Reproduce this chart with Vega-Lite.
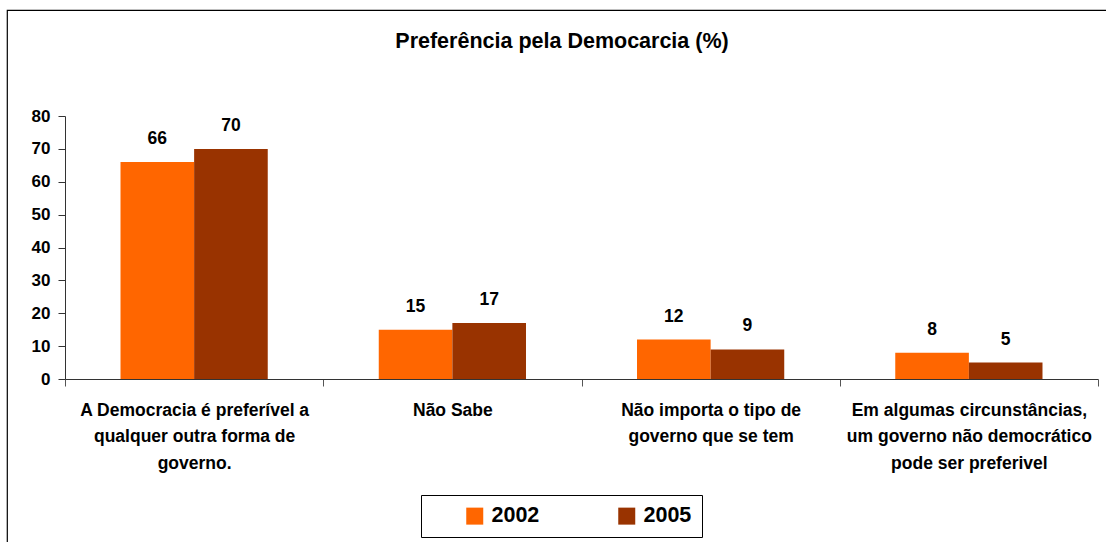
{
  "$schema": "https://vega.github.io/schema/vega-lite/v6.json",
  "autosize": "none",
  "width": 1110,
  "height": 540,
  "padding": {"left": 7, "top": 10, "right": 0, "bottom": 0},
  "background": "white",
  "title": {
    "text": "Preferência pela Democarcia (%)",
    "fontSize": 21.5,
    "fontWeight": "bold",
    "font": "Liberation Sans",
    "color": "black",
    "anchor": "middle",
    "offset": -42
  },
  "config": {
    "font": "Liberation Sans",
    "view": {"stroke": "black", "strokeWidth": 1.2}
  },
  "data": {
    "values": [
      {"cat": "A Democracia é preferível a|qualquer outra forma de|governo.", "year": "2002", "value": 66},
      {"cat": "A Democracia é preferível a|qualquer outra forma de|governo.", "year": "2005", "value": 70},
      {"cat": "Não Sabe", "year": "2002", "value": 15},
      {"cat": "Não Sabe", "year": "2005", "value": 17},
      {"cat": "Não importa o tipo de|governo que se tem", "year": "2002", "value": 12},
      {"cat": "Não importa o tipo de|governo que se tem", "year": "2005", "value": 9},
      {"cat": "Em algumas circunstâncias,|um governo não democrático|pode ser preferivel", "year": "2002", "value": 8},
      {"cat": "Em algumas circunstâncias,|um governo não democrático|pode ser preferivel", "year": "2005", "value": 5}
    ]
  },
  "encoding": {
    "x": {
      "field": "cat",
      "type": "nominal",
      "sort": null,
      "scale": {"range": [58, 1091], "paddingInner": 0, "paddingOuter": 0},
      "axis": {
        "title": null,
        "offset": -171,
        "labelAngle": 0,
        "labelExpr": "split(datum.label, '|')",
        "labelFontSize": 17.5,
        "labelFontWeight": "bold",
        "labelColor": "black",
        "labelLineHeight": 26.5,
        "labelPadding": 15,
        "labelLimit": 300,
        "tickBand": "extent",
        "tickSize": 7,
        "tickColor": "#555",
        "domainColor": "#333",
        "grid": false
      }
    },
    "xOffset": {
      "field": "year",
      "type": "nominal",
      "scale": {"paddingInner": 0, "paddingOuter": 0.754}
    },
    "y": {
      "field": "value",
      "type": "quantitative",
      "scale": {"domain": [0, 80], "range": [369, 106], "nice": false},
      "axis": {
        "title": null,
        "offset": -58,
        "values": [0, 10, 20, 30, 40, 50, 60, 70, 80],
        "labelFontSize": 17,
        "labelFontWeight": "bold",
        "labelColor": "black",
        "labelPadding": 8,
        "tickSize": 7,
        "tickColor": "#333",
        "domainColor": "#333",
        "grid": false
      }
    }
  },
  "layer": [
    {
      "mark": {"type": "bar"},
      "encoding": {
        "color": {
          "field": "year",
          "type": "nominal",
          "scale": {"domain": ["2002", "2005"], "range": ["#FF6600", "#993300"]},
          "legend": {
            "title": null,
            "orient": "none",
            "legendX": 414,
            "legendY": 485,
            "direction": "horizontal",
            "columns": 2,
            "columnPadding": 43,
            "padding": 10,
            "strokeColor": "black",
            "fillColor": "white",
            "symbolType": "square",
            "symbolSize": 289,
            "symbolOffset": 33,
            "symbolStrokeWidth": 0,
            "symbolOpacity": 1,
            "labelFontSize": 21.5,
            "labelFontWeight": "bold",
            "labelColor": "black",
            "labelOffset": 6
          }
        }
      }
    },
    {
      "mark": {"type": "text", "dy": -18, "baseline": "alphabetic", "fontSize": 17.5, "fontWeight": "bold", "color": "black"},
      "encoding": {
        "text": {"field": "value", "type": "quantitative"}
      }
    }
  ]
}
